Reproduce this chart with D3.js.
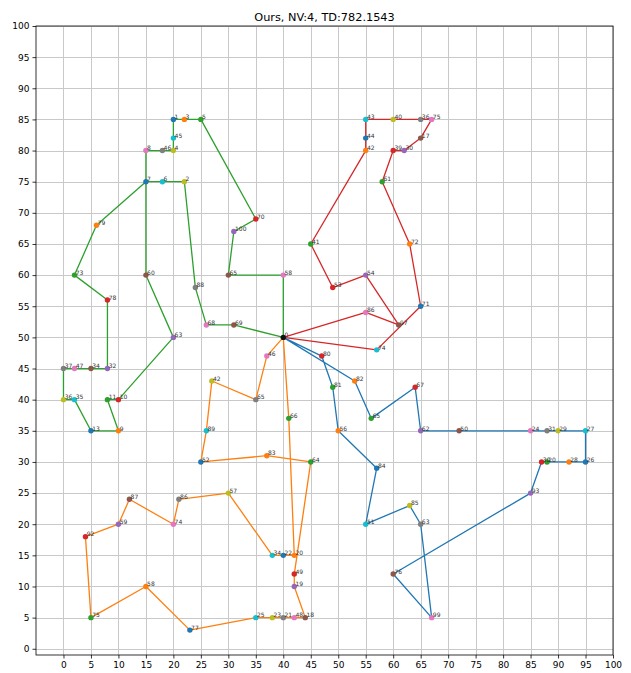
<!DOCTYPE html>
<html>
<head>
<meta charset="utf-8">
<script src="https://cdn.jsdelivr.net/npm/d3@7"></script>
<style>
  body { margin: 0; background: #fff; }
  svg { display: block; }
  text { font-family: "DejaVu Sans", sans-serif; }
</style>
</head>
<body>
<svg id="chart" width="631" height="673"></svg>
<script>
// ---- data -------------------------------------------------------------
const chartTitle = "Ours, NV:4, TD:782.1543";
const depotId = 0, depotX = 40, depotY = 50;

// each route lists its customers in visiting order (depot at both ends implied)
const blueIds = [82, 65, 67, 62, 50, 24, 31, 29, 27, 26, 28, 20, 30, 93, 76, 99, 63, 85, 51, 84, 56, 81, 80];
const blueX   = [53, 56, 64, 65, 72, 85, 88, 90, 95, 95, 92, 88, 87, 85, 60, 67, 65, 63, 55, 57, 50, 49, 47];
const blueY   = [43, 37, 42, 35, 35, 35, 35, 35, 35, 30, 30, 30, 30, 25, 12,  5, 20, 23, 20, 29, 35, 42, 47];

const greenIds = [69, 68, 88, 2, 6, 7, 79, 73, 78, 32, 34, 47, 37, 36, 35, 13, 9, 11, 10, 63, 60, 8, 46, 4, 45, 1, 3, 5, 70, 100, 65, 58];
const greenX   = [31, 26, 24, 22, 18, 15, 6, 2, 8, 8, 5, 2, 0, 0, 2, 5, 10, 8, 10, 20, 15, 15, 18, 20, 20, 20, 22, 25, 35, 31, 30, 40];
const greenY   = [52, 52, 58, 75, 75, 75, 68, 60, 56, 45, 45, 45, 45, 40, 40, 35, 35, 40, 40, 50, 60, 80, 80, 80, 82, 85, 85, 85, 69, 67, 60, 60];

const redIds = [74, 71, 72, 61, 39, 30, 17, 75, 36, 40, 43, 44, 42, 41, 53, 54, 97, 86];
const redX   = [57, 65, 63, 58, 60, 62, 65, 67, 65, 60, 55, 55, 55, 45, 49, 55, 61, 55];
const redY   = [48, 55, 65, 75, 80, 80, 82, 85, 85, 85, 85, 82, 80, 65, 58, 60, 52, 54];

const orangeIds = [46, 65, 42, 89, 52, 83, 64, 49, 19, 18, 48, 21, 23, 25, 77, 58, 75, 92, 59, 87, 74, 86, 57, 34, 22, 20, 66];
const orangeX   = [37, 35, 27, 26, 25, 37, 45, 42, 42, 44, 42, 40, 38, 35, 23, 15, 5, 4, 10, 12, 20, 21, 30, 38, 40, 42, 41];
const orangeY   = [47, 40, 43, 35, 30, 31, 30, 12, 10, 5, 5, 5, 5, 5, 3, 10, 5, 18, 20, 24, 20, 24, 25, 15, 15, 15, 37];

const xTickValues = d3.range(0, 101, 5);
const yTickValues = d3.range(0, 101, 5);

// ---- styling ----------------------------------------------------------
const routeStyles = [
  { ids: blueIds,   xs: blueX,   ys: blueY,   line: "#1f77b4", firstDot: 1 },
  { ids: greenIds,  xs: greenX,  ys: greenY,  line: "#2ca02c", firstDot: 5 },
  { ids: redIds,    xs: redX,    ys: redY,    line: "#d62728", firstDot: 9 },
  { ids: orangeIds, xs: orangeX, ys: orangeY, line: "#ff7f0e", firstDot: 6 }
];
const dotColors = d3.schemeCategory10;

const svg = d3.select("#chart");
const plot = { left: 36, right: 613, top: 26, bottom: 655 };

const x = d3.scaleLinear().domain([-5, 100]).range([plot.left, plot.right]);
const y = d3.scaleLinear().domain([-1, 100]).range([plot.bottom, plot.top]);

// title
svg.append("text")
  .attr("x", (plot.left + plot.right) / 2)
  .attr("y", 21)
  .attr("text-anchor", "middle")
  .attr("font-size", 11.3)
  .attr("fill", "#000")
  .text(chartTitle);

// grid
const grid = svg.append("g").attr("stroke", "#c9c9c9").attr("stroke-width", 1);
grid.selectAll("line.v").data(xTickValues).join("line")
  .attr("class", "v")
  .attr("x1", d => Math.round(x(d)) + 0.5).attr("x2", d => Math.round(x(d)) + 0.5)
  .attr("y1", plot.top).attr("y2", plot.bottom);
grid.selectAll("line.h").data(yTickValues).join("line")
  .attr("class", "h")
  .attr("y1", d => Math.round(y(d)) + 0.5).attr("y2", d => Math.round(y(d)) + 0.5)
  .attr("x1", plot.left).attr("x2", plot.right);

// axes
const xAxis = d3.axisBottom(x).tickValues(xTickValues).tickSize(3.5).tickPadding(3).tickFormat(d3.format("d"));
const yAxis = d3.axisLeft(y).tickValues(yTickValues).tickSize(3.5).tickPadding(3).tickFormat(d3.format("d"));

const gx = svg.append("g").attr("transform", `translate(0,${plot.bottom})`).call(xAxis);
const gy = svg.append("g").attr("transform", `translate(${plot.left},0)`).call(yAxis);
[gx, gy].forEach(g => {
  g.select(".domain").remove();
  g.selectAll(".tick line").attr("stroke", "#000").attr("stroke-width", 0.8);
  g.selectAll(".tick text").attr("font-size", 9).attr("fill", "#000")
    .attr("font-family", "DejaVu Sans, sans-serif");
});

// frame
svg.append("rect")
  .attr("x", plot.left).attr("y", plot.top)
  .attr("width", plot.right - plot.left).attr("height", plot.bottom - plot.top)
  .attr("fill", "none").attr("stroke", "#000").attr("stroke-width", 0.8);

// routes
const lineGen = d3.line().x(d => x(d[0])).y(d => y(d[1]));
const routesG = svg.append("g");
routeStyles.forEach(r => {
  const pts = [[depotX, depotY]]
    .concat(r.xs.map((v, i) => [v, r.ys[i]]))
    .concat([[depotX, depotY]]);
  routesG.append("path")
    .attr("d", lineGen(pts))
    .attr("fill", "none")
    .attr("stroke", r.line)
    .attr("stroke-width", 1.3)
    .attr("stroke-linejoin", "round");
});

// customers
const dotsG = svg.append("g");
const labelsG = svg.append("g");
routeStyles.forEach(r => {
  const nodes = r.ids.map((id, i) => ({ id, x: r.xs[i], y: r.ys[i], c: dotColors[(r.firstDot + i) % 10] }));
  dotsG.selectAll(null).data(nodes).join("circle")
    .attr("cx", d => x(d.x)).attr("cy", d => y(d.y))
    .attr("r", 2.7)
    .attr("fill", d => d.c);
  labelsG.selectAll(null).data(nodes).join("text")
    .attr("x", d => x(d.x) + 1.2).attr("y", d => y(d.y) - 0.3)
    .attr("font-size", 6)
    .attr("fill", "#333")
    .text(d => d.id);
});

// depot
dotsG.append("circle")
  .attr("cx", x(depotX)).attr("cy", y(depotY))
  .attr("r", 2.7).attr("fill", "#111");
labelsG.append("text")
  .attr("x", x(depotX) + 1.2).attr("y", y(depotY) - 0.3)
  .attr("font-size", 6).attr("fill", "#333")
  .text(depotId);
</script>
</body>
</html>
